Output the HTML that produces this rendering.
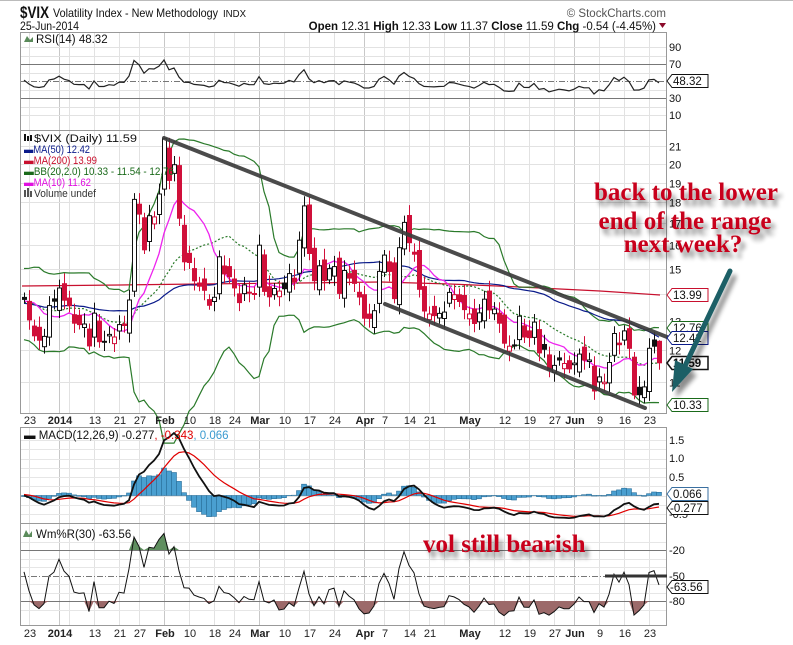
<!DOCTYPE html>
<html><head><meta charset="utf-8"><style>
html,body{margin:0;padding:0;background:#fff;width:793px;height:645px;overflow:hidden}
svg{display:block;font-family:"Liberation Sans",sans-serif}
.ax{font-size:11px;fill:#111}
.xl{font-size:11px;fill:#222}
.xb{font-size:11px;font-weight:bold;fill:#222}
.ann{font-family:"Liberation Serif",serif;font-weight:bold;font-size:25px;fill:#c8001a}
</style></head><body>
<svg id="s" width="793" height="645" viewBox="0 0 793 645" xmlns="http://www.w3.org/2000/svg">
<defs><filter id="sh" x="-10%" y="-30%" width="130%" height="180%"><feGaussianBlur in="SourceAlpha" stdDeviation="2.5"/><feOffset dx="4" dy="6"/><feComponentTransfer><feFuncA type="linear" slope="0.45"/></feComponentTransfer><feMerge><feMergeNode/><feMergeNode in="SourceGraphic"/></feMerge></filter></defs>
<line x1="0" y1="0.5" x2="793" y2="0.5" stroke="#bbb"/>
<g id="grid"></g>
<g fill="none" stroke="#999" stroke-width="1">
<rect x="20.5" y="32.5" width="646" height="98"/>
<rect x="20.5" y="130.5" width="646" height="283"/>
<rect x="20.5" y="427.5" width="646" height="96"/>
<rect x="20.5" y="523.5" width="646" height="102"/>
</g>
<g id="series"></g>
<!-- header -->
<text x="20" y="18" font-size="17" font-weight="bold" fill="#111" textLength="29" lengthAdjust="spacingAndGlyphs">$VIX</text>
<text x="53" y="17" font-size="12" fill="#111" textLength="165" lengthAdjust="spacingAndGlyphs">Volatility Index - New Methodology</text>
<text x="223" y="17" font-size="10" fill="#111" textLength="23" lengthAdjust="spacingAndGlyphs">INDX</text>
<text x="20" y="30" font-size="11.5" fill="#111" textLength="59" lengthAdjust="spacingAndGlyphs">25-Jun-2014</text>
<text x="666" y="17" font-size="11.5" fill="#555" text-anchor="end">© StockCharts.com</text>
<text x="656" y="30" font-size="11.5" fill="#111" text-anchor="end"><tspan font-weight="bold">Open</tspan> 12.31  <tspan font-weight="bold">High</tspan> 12.33  <tspan font-weight="bold">Low</tspan> 11.37  <tspan font-weight="bold">Close</tspan> 11.59  <tspan font-weight="bold">Chg</tspan> -0.54 (-4.45%)</text>
<polygon points="659,23 666,23 662.5,28" fill="#8b0a2a"/>
<!-- RSI panel labels -->
<text x="36" y="43" font-size="11.5" fill="#111">RSI(14) 48.32</text>
<polygon points="24,42 27,36 30,40 33,37 33,42" fill="#5a8a5a"/>
<g class="ax"><text x="669" y="51">90</text><text x="669" y="68">70</text><text x="669" y="102">30</text><text x="669" y="119">10</text></g>
<!-- main labels -->
<g class="ax" id="mainax"></g>
<g font-size="11">
<text x="34" y="142" fill="#111" textLength="103" lengthAdjust="spacingAndGlyphs">$VIX (Daily) 11.59</text>
<text x="24" y="153" fill="#0a1a8a" textLength="66" lengthAdjust="spacingAndGlyphs">▬MA(50) 12.42</text>
<text x="24" y="164" fill="#c8102e" textLength="73" lengthAdjust="spacingAndGlyphs">▬MA(200) 13.99</text>
<text x="24" y="175" fill="#1a6a1a" textLength="150" lengthAdjust="spacingAndGlyphs">▬BB(20,2.0) 10.33 - 11.54 - 12.76</text>
<text x="24" y="186" fill="#e010e0" textLength="67" lengthAdjust="spacingAndGlyphs">▬MA(10) 11.62</text>
<text x="34" y="197" fill="#333" textLength="62" lengthAdjust="spacingAndGlyphs">Volume undef</text>
</g>
<rect x="24" y="134" width="2" height="7" fill="#111"/><rect x="27" y="136" width="2" height="5" fill="#111"/><rect x="30" y="135" width="2" height="6" fill="#111"/>
<rect x="24" y="190" width="2" height="7" fill="#555"/><rect x="27" y="188" width="2" height="9" fill="#555"/><rect x="30" y="191" width="2" height="6" fill="#555"/>
<!-- MACD labels -->
<text x="24" y="439" font-size="11.5" fill="#111">▬ MACD(12,26,9) -0.277<tspan fill="#e00000">, -0.343</tspan><tspan fill="#3a9ad0">, 0.066</tspan></text>
<g class="ax"><text x="669" y="444">1.5</text><text x="669" y="462">1.0</text><text x="669" y="481">0.5</text><text x="669" y="518">-0.5</text></g>
<!-- Wm labels -->
<text x="36" y="538" font-size="11.5" fill="#111">Wm%R(30) -63.56</text>
<polygon points="23,537 26,530 29,535 32,531 32,537" fill="#5a8a5a"/>
<g class="ax"><text x="669" y="554">-20</text><text x="669" y="580">-50</text><text x="669" y="605">-80</text></g>
<!-- x labels -->
<g id="xl1"></g>
<!-- trendlines -->
<g stroke="#3c3c3c" stroke-width="4" stroke-linecap="round" opacity="0.92">
<line x1="164" y1="138" x2="667" y2="337"/>
<line x1="385" y1="304" x2="645" y2="408"/>
</g>
<line x1="605" y1="576" x2="667" y2="576" stroke="#333" stroke-width="3"/>
<!-- value tags -->
<g font-size="11.5">
<polygon points="667,81 672,74.5 708,74.5 708,87.5 672,87.5" fill="#fff" stroke="#111"/><text x="673" y="85" fill="#111">48.32</text>
<polygon points="667,295 672,288.5 708,288.5 708,301.5 672,301.5" fill="#fff" stroke="#c8102e"/><text x="673" y="299" fill="#111">13.99</text>
<polygon points="667,328 672,321.5 708,321.5 708,334.5 672,334.5" fill="#fff" stroke="#1a6a1a"/><text x="673" y="332" fill="#111">12.76</text>
<polygon points="667,338 672,331.5 708,331.5 708,344.5 672,344.5" fill="#fff" stroke="#0a1a8a"/><text x="673" y="342" fill="#111">12.42</text>
<polygon points="667,363 672,356.5 708,356.5 708,369.5 672,369.5" fill="#fff" stroke="#111" stroke-width="1.5"/><text x="673" y="367" fill="#111" font-weight="bold">11.59</text>
<polygon points="667,405 672,398.5 708,398.5 708,411.5 672,411.5" fill="#fff" stroke="#1a6a1a"/><text x="673" y="409" fill="#111">10.33</text>
<polygon points="667,494 672,487.5 708,487.5 708,500.5 672,500.5" fill="#fff" stroke="#3a6fa0"/><text x="673" y="498" fill="#111">0.066</text>
<polygon points="667,508 672,501.5 708,501.5 708,514.5 672,514.5" fill="#fff" stroke="#111"/><text x="670" y="512" fill="#111">-0.277</text>
<polygon points="667,587 672,580.5 708,580.5 708,593.5 672,593.5" fill="#fff" stroke="#111"/><text x="670" y="591" fill="#111">-63.56</text>
</g>
<!-- annotations -->
<g filter="url(#sh)">
<text class="ann" x="686" y="200" text-anchor="middle">back to the lower</text>
<text class="ann" x="685" y="229" text-anchor="middle">end of the range</text>
<text class="ann" x="683" y="252" text-anchor="middle">next week?</text>
<text class="ann" x="423" y="552" font-size="23">vol still bearish</text>
<line x1="730" y1="271" x2="684" y2="368" stroke="#1f5f66" stroke-width="5" stroke-linecap="round"/>
<polygon points="672,392 675,360 693,369" fill="#1f5f66"/>
</g>
</svg>
<script>
(function(){
var C=[13.79,13.04,12.48,12.33,12.46,13.56,13.72,
14.23,13.76,13.55,12.92,12.87,12.89,12.14,13.28,12.28,12.28,12.53,12.44,12.87,12.84,13.77,18.14,17.42,15.80,17.35,17.29,18.41,
21.44,19.11,19.95,17.23,15.29,15.26,14.51,14.30,14.14,13.57,13.87,15.50,14.79,14.68,14.23,13.67,14.35,14.04,14.00,
16.00,14.10,13.89,14.21,14.11,14.20,14.80,14.47,16.22,17.82,15.64,14.52,15.12,14.52,15.00,15.09,14.02,14.93,14.62,14.41,13.88,
13.10,13.09,13.37,14.89,15.57,14.89,13.82,15.89,17.03,16.11,15.61,14.18,13.36,13.25,13.19,13.27,13.32,14.06,13.97,13.71,13.41,
13.25,12.91,13.29,13.80,13.40,13.43,12.92,12.23,12.13,12.17,13.17,12.44,12.42,12.96,11.91,12.03,11.36,11.51,11.68,11.57,11.40,
11.58,11.87,11.68,11.68,10.73,11.15,10.99,11.60,12.56,12.18,12.65,12.06,10.61,10.62,10.85,12.06,12.13,11.59];
var N=C.length,X=function(i){return 24+i*5};
var PY=function(p){return 146+Math.log(21/p)*364.8};
var RY=function(v){return 81-(v-50)*0.85};
var MY=function(v){return 495.5-v*37};
var WY=function(v){return 533+(-v)*0.85};
var O=[],H=[],L=[];
for(var i=0;i<N;i++){var pc=i?C[i-1]:13.6;var o=pc*(1+0.025*Math.sin(i*2.3+1));if(i==N-1)o=12.31;O.push(o);
var r=0.012+0.018*Math.abs(Math.sin(i*1.7));H.push(Math.max(o,C[i])*(1+r));L.push(Math.min(o,C[i])*(1-r*0.9));}
H[N-1]=12.33;L[N-1]=11.37;H[28]=21.48;
var pad=[];for(var k=0;k<60;k++)pad.push(13.6+0.9*Math.sin(k*0.6)+0.4*Math.sin(k*1.9));
var A=pad.concat(C),P=pad.length;
var padH=pad.map(function(v){return v*1.03}),padL=pad.map(function(v){return v*0.97});
var AH=padH.concat(H),AL=padL.concat(L);
function sma(n,j){var s=0;for(var k=j-n+1;k<=j;k++)s+=A[k];return s/n}
function sd(n,j,m){var s=0;for(var k=j-n+1;k<=j;k++)s+=(A[k]-m)*(A[k]-m);return Math.sqrt(s/n)}
function poly(pts,st,w,extra){return '<polyline fill="none" stroke="'+st+'" stroke-width="'+w+'" '+(extra||'')+' points="'+pts.map(function(p){return p[0].toFixed(1)+','+p[1].toFixed(1)}).join(' ')+'"/>'}
var g='';
var gr='';
var wk=[1,9,14,19,23,33,38,42,52,57,62,72,77,81,84,94,96,101,106,115,120,125];
wk.forEach(function(i){var x=X(i)+0.5;gr+='<line x1="'+x+'" y1="32" x2="'+x+'" y2="625" stroke="#e2e2e2"/>';});
var maj=[7,28,47,68,89,110];
maj.forEach(function(i){var x=X(i)+0.5;gr+='<line x1="'+x+'" y1="32" x2="'+x+'" y2="625" stroke="#c8c8c8"/>';});
[90,80,60,40,20,10].forEach(function(v){var y=Math.round(RY(v))+0.5;gr+='<line x1="20" y1="'+y+'" x2="666" y2="'+y+'" stroke="#e2e2e2"/>'});
var ma='';
[21,20,19,18,17,16,15,14,13,12,11].forEach(function(p){var y=Math.round(PY(p))+0.5;gr+='<line x1="20" y1="'+y+'" x2="666" y2="'+y+'" stroke="#e2e2e2"/>';ma+='<text x="669" y="'+(y+4)+'">'+p+'</text>'});
[1.5,1.25,1,0.75,0.5,0.25,0,-0.25,-0.5].forEach(function(v){var y=Math.round(MY(v))+0.5;gr+='<line x1="20" y1="'+y+'" x2="666" y2="'+y+'" stroke="#e6e6e6"/>'});
[-10,-30,-40,-60,-70,-90].forEach(function(v){var y=Math.round(WY(v))+0.5;gr+='<line x1="20" y1="'+y+'" x2="666" y2="'+y+'" stroke="#e6e6e6"/>'});
gr+='<line x1="20" y1="64.5" x2="666" y2="64.5" stroke="#777"/><line x1="20" y1="98.5" x2="666" y2="98.5" stroke="#777"/><line x1="20" y1="81.5" x2="666" y2="81.5" stroke="#777" stroke-dasharray="6,2,1,2"/>';
gr+='<line x1="20" y1="550.5" x2="666" y2="550.5" stroke="#777"/><line x1="20" y1="601.5" x2="666" y2="601.5" stroke="#777"/><line x1="20" y1="576.5" x2="666" y2="576.5" stroke="#777" stroke-dasharray="6,2,1,2"/>';
gr+='<rect x="20" y="414" width="647" height="13" fill="#fff"/><rect x="20" y="626" width="647" height="14" fill="#fff"/>';
document.getElementById('grid').innerHTML=gr;
document.getElementById('mainax').innerHTML=ma;
var lab=[[1,'23',0],[7,'2014',1],[14,'13',0],[19,'21',0],[23,'27',0],[28,'Feb',1],[33,'10',0],[38,'18',0],[42,'24',0],[47,'Mar',1],[52,'10',0],[57,'17',0],[62,'24',0],[68,'Apr',1],[72,'7',0],[77,'14',0],[81,'21',0],[89,'May',1],[96,'12',0],[101,'19',0],[106,'27',0],[110,'Jun',1],[115,'9',0],[120,'16',0],[125,'23',0]];
var xs='';[424,637].forEach(function(yy){lab.forEach(function(l){xs+='<text class="'+(l[2]?'xb':'xl')+'" x="'+(X(l[0])+1)+'" y="'+yy+'" text-anchor="middle">'+l[1]+'</text>'})});
document.getElementById('xl1').innerHTML=xs;
var ag=0,al=0,rsi=[];for(var j=1;j<A.length;j++){var d=A[j]-A[j-1];var u=d>0?d:0,dn=d<0?-d:0;if(j<=14){ag+=u/14;al+=dn/14}else{ag=(ag*13+u)/14;al=(al*13+dn)/14}if(j>=P)rsi.push([X(j-P),RY(100-100/(1+ag/al))])}
g+=poly(rsi,'#222',1.2);
g+=poly([[22,286],[120,285],[200,284],[300,283],[380,282],[450,284],[520,287],[600,291],[660,295]],'#c8102e',1.2);
var m50=[],m10=[],bm=[],bu=[],bl=[];
for(var i=0;i<N;i++){var j=i+P;m50.push([X(i),PY(sma(50,j))]);m10.push([X(i),PY(sma(10,j))]);var m=sma(20,j),s=sd(20,j,m);bm.push([X(i),PY(m)]);bu.push([X(i),PY(m+2*s)]);bl.push([X(i),PY(Math.max(m-2*s,9.3))]);}
g+=poly(bu,'#2a7a2a',1.2)+poly(bl,'#2a7a2a',1.2)+poly(bm,'#2a7a2a',1.2,'stroke-dasharray="2,2"')+poly(m50,'#0a1a8a',1.2)+poly(m10,'#ee22ee',1.3);
for(var i=0;i<N;i++){var x=X(i),o=O[i],c=C[i],pc=i?C[i-1]:13.6;var col=c<pc?'#d0103a':'#111';var y1=PY(Math.max(o,c)),y2=PY(Math.min(o,c));if(y2-y1<1.5)y2=y1+1.5;
g+='<line x1="'+(x+0.5)+'" y1="'+PY(H[i]).toFixed(1)+'" x2="'+(x+0.5)+'" y2="'+PY(L[i]).toFixed(1)+'" stroke="'+col+'"/>';
if(c>o)g+='<rect x="'+(x-1.5)+'" y="'+y1.toFixed(1)+'" width="4" height="'+(y2-y1).toFixed(1)+'" fill="#fff" stroke="'+col+'"/>';
else g+='<rect x="'+(x-2)+'" y="'+y1.toFixed(1)+'" width="5" height="'+(y2-y1+0.5).toFixed(1)+'" fill="'+col+'"/>';}
var e12=A[0],e26=A[0],sig=0,mac=[],sg=[],hist='';var k12=2/13,k26=2/27,k9=0.2;
for(var j=1;j<A.length;j++){e12=A[j]*k12+e12*(1-k12);e26=A[j]*k26+e26*(1-k26);var mc=e12-e26;sig=mc*k9+sig*(1-k9);
if(j>=P){var i=j-P,x=X(i);mac.push([x,MY(mc)]);sg.push([x,MY(sig)]);var h=mc-sig,y0=MY(0),yh=MY(h);hist+='<rect x="'+(x-2.5)+'" y="'+Math.min(y0,yh).toFixed(1)+'" width="5" height="'+Math.abs(yh-y0).toFixed(1)+'" fill="#4a9fd0" stroke="#2a6f9a" stroke-width="0.6"/>';}}
g+=hist+poly(sg,'#e00000',1.2)+poly(mac,'#111',1.8);
var w=[];for(var i=0;i<N;i++){var j=i+P,hh=-1e9,ll=1e9;for(var k=j-29;k<=j;k++){hh=Math.max(hh,AH[k]);ll=Math.min(ll,AL[k])}w.push([X(i),WY(-100*(hh-A[j])/(hh-ll))])}
var up='M'+X(0)+',550 ',dn='M'+X(0)+',601 ';w.forEach(function(p){up+='L'+p[0]+','+Math.min(p[1],550).toFixed(1)+' ';dn+='L'+p[0]+','+Math.max(p[1],601).toFixed(1)+' '});
up+='L'+X(N-1)+',550Z';dn+='L'+X(N-1)+',601Z';
g+='<path d="'+up+'" fill="#5f8f5f"/><path d="'+dn+'" fill="#9c6a6a"/>'+poly(w,'#111',1);
document.getElementById('series').innerHTML=g;
})();
</script>
</body></html>
